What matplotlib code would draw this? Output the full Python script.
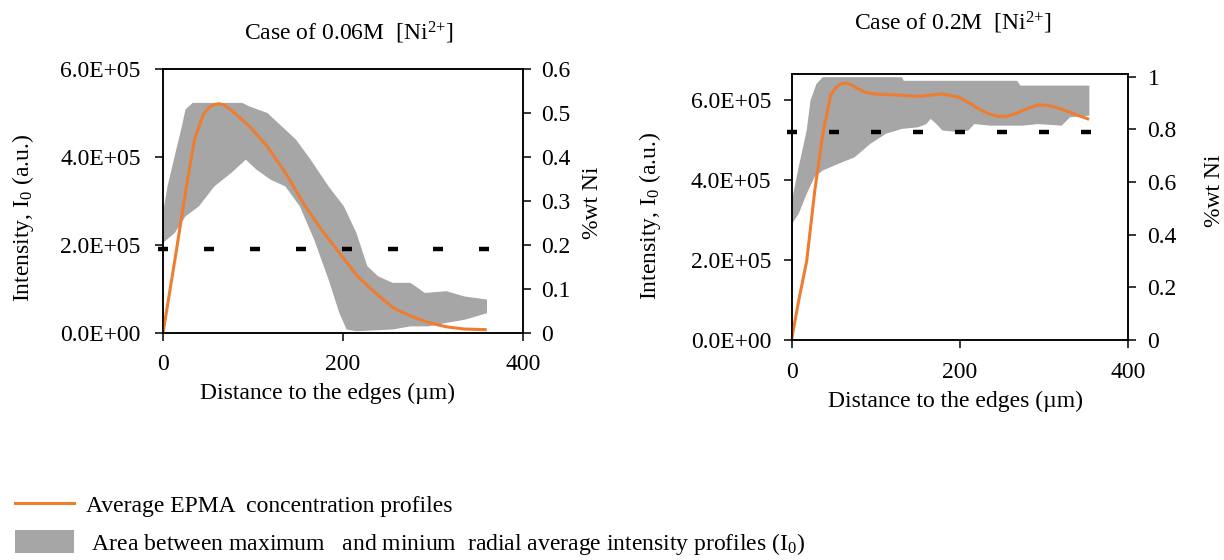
import matplotlib
matplotlib.use("Agg")
import matplotlib.pyplot as plt
from matplotlib.ticker import FixedLocator, FixedFormatter

plt.rcParams['font.family'] = ['Liberation Serif', 'DejaVu Serif']
plt.rcParams['mathtext.default'] = 'regular'

# ---------------- data: case 0.06M ----------------
a_up_x = [0, 5, 13, 21, 25, 33, 88, 96, 116, 136, 148, 164, 184, 201, 215, 227, 239, 255, 275, 291, 315, 335, 360]
a_up_y = [2.73e5, 3.33e5, 4.02e5, 4.70e5, 5.08e5, 5.23e5, 5.23e5, 5.15e5, 5.00e5, 4.62e5, 4.39e5, 3.94e5,
          3.33e5, 2.88e5, 2.27e5, 1.52e5, 1.29e5, 1.14e5, 1.14e5, 0.91e5, 0.95e5, 0.83e5, 0.76e5]
a_lo_x = [0, 13, 25, 40, 57, 76, 92, 104, 120, 136, 152, 168, 184, 196, 204, 215, 255, 275, 295, 315, 335, 360]
a_lo_y = [2.05e5, 2.27e5, 2.65e5, 2.88e5, 3.33e5, 3.64e5, 3.94e5, 3.71e5, 3.48e5, 3.33e5, 2.88e5, 2.12e5,
          1.21e5, 0.45e5, 0.08e5, 0.04e5, 0.08e5, 0.15e5, 0.15e5, 0.23e5, 0.30e5, 0.45e5]
a_epma_x = [0, 15, 25, 35, 45, 52, 57, 62, 68, 75, 85, 96, 116, 136, 156, 176, 196, 216, 236, 256, 276,
            296, 315, 335, 358]
a_epma_y = [0, 0.189, 0.32, 0.44, 0.498, 0.514, 0.519, 0.521, 0.518, 0.508, 0.49, 0.47, 0.424, 0.364,
            0.295, 0.235, 0.182, 0.129, 0.091, 0.057, 0.038, 0.023, 0.014, 0.009, 0.0076]
a_ref_x = [0, 51, 102, 153, 204, 255, 306, 357]
a_ref_y = [0.19] * 8

# ---------------- data: case 0.2M ----------------
b_up_x = [0, 8, 17.5, 22, 29, 36.5, 131, 133, 268, 272, 354]
b_up_y = [3.49e5, 4.32e5, 5.23e5, 5.98e5, 6.39e5, 6.56e5, 6.56e5, 6.47e5, 6.47e5, 6.35e5, 6.35e5]
b_lo_x = [0, 8, 17.5, 27, 36.5, 55.5, 74.5, 93.5, 112, 131, 150, 160, 165, 172, 179, 198, 210, 217,
          236, 274, 293, 321, 331, 354]
b_lo_y = [2.90e5, 3.15e5, 3.65e5, 4.07e5, 4.23e5, 4.40e5, 4.56e5, 4.90e5, 5.15e5, 5.27e5, 5.31e5, 5.39e5,
          5.52e5, 5.39e5, 5.23e5, 5.19e5, 5.23e5, 5.39e5, 5.35e5, 5.35e5, 5.39e5, 5.35e5, 5.56e5, 5.60e5]
b_epma_x = [0, 8, 17.5, 27, 36.5, 46, 52, 58, 65, 72, 79, 88, 98, 127, 150, 179, 198, 210, 222, 235, 245,
            255, 265, 274, 293, 307, 326, 340, 352]
b_epma_y = [0.01, 0.15, 0.30, 0.564, 0.78, 0.93, 0.958, 0.972, 0.976, 0.967, 0.953, 0.940, 0.934, 0.930,
            0.925, 0.934, 0.922, 0.902, 0.878, 0.858, 0.85, 0.849, 0.858, 0.871, 0.893, 0.89, 0.871, 0.853, 0.84]
b_ref_x = [0, 50, 100, 150, 200, 250, 300, 350]
b_ref_y = [0.79] * 8

# ---------------- ticks / labels ----------------
x_ticks = [0, 200, 400]
x_ticklabels = ['0', '200', '400']
int_ticks = [0, 2e5, 4e5, 6e5]
int_ticklabels = ['0.0E+00', '2.0E+05', '4.0E+05', '6.0E+05']
a_ni_ticks = [0, 0.1, 0.2, 0.3, 0.4, 0.5, 0.6]
a_ni_ticklabels = ['0', '0.1', '0.2', '0.3', '0.4', '0.5', '0.6']
b_ni_ticks = [0, 0.2, 0.4, 0.6, 0.8, 1.0]
b_ni_ticklabels = ['0', '0.2', '0.4', '0.6', '0.8', '1']
titles = ['Case of 0.06M  [Ni$^{2{+}}$]', 'Case of 0.2M  [Ni$^{2{+}}$]']
xlabel = 'Distance to the edges (µm)'
ylabel_left = 'Intensity, I$_0$ (a.u.)'
ylabel_right = '%wt Ni'
legend_labels = ['Average EPMA  concentration profiles',
                 ' Area between maximum   and minium  radial average intensity profiles (I$_0$)']

ORANGE = '#ED7D31'
GRAY = '#A6A6A6'
FS = 17
W, H = 1224, 560

fig = plt.figure(figsize=(W / 100, H / 100), dpi=100)


def px_axes(x0, y0, x1, y1):
    return fig.add_axes([x0 / W, 1 - y1 / H, (x1 - x0) / W, (y1 - y0) / H])


def style(ax, axr, ylim_l, ylim_r, ni_ticks, ni_labels, padl, padr, padx):
    ax.set_xlim(0, 400)
    ax.set_ylim(*ylim_l)
    axr.set_ylim(*ylim_r)
    ax.xaxis.set_major_locator(FixedLocator(x_ticks))
    ax.xaxis.set_major_formatter(FixedFormatter(x_ticklabels))
    ax.yaxis.set_major_locator(FixedLocator(int_ticks))
    ax.yaxis.set_major_formatter(FixedFormatter(int_ticklabels))
    axr.yaxis.set_major_locator(FixedLocator(ni_ticks))
    axr.yaxis.set_major_formatter(FixedFormatter(ni_labels))
    for a in (ax, axr):
        for s in a.spines.values():
            s.set_linewidth(1.1)
            s.set_color('black')
    ax.tick_params(axis='y', direction='out', length=6, width=1.1, labelsize=FS, pad=padl)
    ax.tick_params(axis='x', direction='out', length=6, width=1.1, labelsize=FS, pad=padx)
    axr.tick_params(axis='y', direction='out', length=6, width=1.1, labelsize=FS, pad=padr)


def band(ax, ux, uy, lx, ly):
    return ax.fill(list(ux) + list(lx)[::-1], list(uy) + list(ly)[::-1], color=GRAY, lw=0)[0]


# ---- left chart ----
ax1 = px_axes(163, 69, 523, 333)
ax1r = ax1.twinx()
f1 = band(ax1, a_up_x, a_up_y, a_lo_x, a_lo_y)
ax1r.plot(a_ref_x, a_ref_y, ls='none', marker='_', ms=6.5, mew=3.2, color='black', clip_on=False)
l1, = ax1r.plot(a_epma_x, a_epma_y, color=ORANGE, lw=2.2)
style(ax1, ax1r, (0, 6e5), (0, 0.6), a_ni_ticks, a_ni_ticklabels, 10, 7, 9)

# ---- right chart ----
ax2 = px_axes(792, 74, 1128, 340)
ax2r = ax2.twinx()
band(ax2, b_up_x, b_up_y, b_lo_x, b_lo_y)
ax2r.plot(b_ref_x, b_ref_y, ls='none', marker='_', ms=6.5, mew=3.2, color='black', clip_on=False)
ax2r.plot(b_epma_x, b_epma_y, color=ORANGE, lw=2.2)
style(ax2, ax2r, (0, 6.64e5), (0, 1.01), b_ni_ticks, b_ni_ticklabels, 9, 8, 10)

# ---- titles and axis labels ----
fig.text(349 / W, 1 - 33 / H, titles[0], ha='center', va='center', fontsize=FS)
fig.text(953 / W, 1 - 23 / H, titles[1], ha='center', va='center', fontsize=FS)
fig.text(328 / W, 1 - 393 / H, xlabel, ha='center', va='center', fontsize=FS)
fig.text(956 / W, 1 - 401 / H, xlabel, ha='center', va='center', fontsize=FS)
fig.text(23 / W, 1 - 218 / H, ylabel_left, ha='center', va='center', rotation=90, fontsize=FS)
fig.text(650 / W, 1 - 216 / H, ylabel_left, ha='center', va='center', rotation=90, fontsize=FS)
fig.text(593 / W, 1 - 203 / H, ylabel_right, ha='center', va='center', rotation=90, fontsize=FS)
fig.text(1214 / W, 1 - 191 / H, ylabel_right, ha='center', va='center', rotation=90, fontsize=FS)

# ---- legend ----
fig.legend(handles=[l1, f1], labels=legend_labels, loc='upper left',
           bbox_to_anchor=(15 / W, 1 - 493 / H), frameon=False, fontsize=FS,
           handlelength=2.5, handleheight=1.1, handletextpad=0.5, labelspacing=0.55,
           borderpad=0, borderaxespad=0)

fig.savefig('out.png', dpi=100)
